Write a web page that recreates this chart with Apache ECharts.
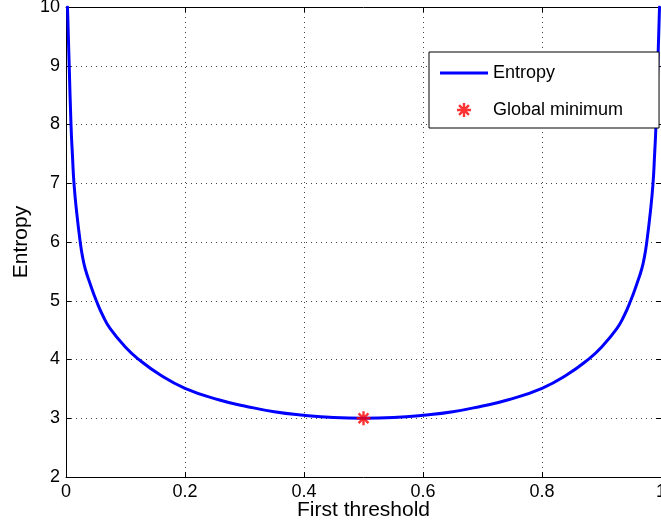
<!DOCTYPE html>
<html>
<head>
<meta charset="utf-8">
<script src="https://cdn.jsdelivr.net/npm/echarts@6/dist/echarts.min.js"></script>
<style>
  html, body { margin: 0; padding: 0; background: #fff; }
  #chart { width: 661px; height: 527px; }
</style>
</head>
<body>
<div id="chart"></div>
<script>
// Entropy as a function of the first threshold
const thresholdX = [
  0.0025, 0.0054, 0.0084, 0.0108, 0.0134, 0.018, 0.0239, 0.0276, 0.0324, 0.0412,
  0.051, 0.0622, 0.074, 0.1, 0.12, 0.158, 0.2, 0.258, 0.3, 0.35, 0.4, 0.45, 0.5,
  0.55, 0.6, 0.65, 0.7, 0.742, 0.8, 0.842, 0.88, 0.9, 0.926, 0.9378, 0.949,
  0.9588, 0.9676, 0.9724, 0.9761, 0.982, 0.9866, 0.9892, 0.9916, 0.9946, 0.9975
];
const entropyY = [
  10, 9.0, 8.0, 7.48, 7.0, 6.5, 6.0, 5.76, 5.54, 5.27,
  5.0, 4.74, 4.53, 4.21, 4.02, 3.74, 3.51, 3.31, 3.21, 3.11, 3.05, 3.012, 3.0,
  3.012, 3.05, 3.11, 3.21, 3.31, 3.51, 3.74, 4.02, 4.21, 4.53, 4.74, 5.0,
  5.27, 5.54, 5.76, 6.0, 6.5, 7.0, 7.48, 8.0, 9.0, 10
];
// Location of the global minimum
const minimumX = [0.5];
const minimumY = [3];

const xTicks = { min: 0, max: 1, interval: 0.2 };
const yTicks = { min: 2, max: 10, interval: 1 };

const FONT = 'Liberation Sans, Arial, Helvetica, sans-serif';

// eight-armed asterisk marker
const asterisk = 'path://M-1.2,-7L1.2,-7L1.2,7L-1.2,7Z' +
  'M-7,-1.2L7,-1.2L7,1.2L-7,1.2Z' +
  'M-4.1,-5.8L5.8,4.1L4.1,5.8L-5.8,-4.1Z' +
  'M-5.8,4.1L4.1,-5.8L5.8,-4.1L-4.1,5.8Z';
// plain line sample for the curve's legend entry
const lineIcon = 'path://M0,0L48,0L48,3L0,3Z';

const curve = thresholdX.map((x, i) => [x, entropyY[i]]);
const minima = minimumX.map((x, i) => [x, minimumY[i]]);

const gridLine = { show: true, lineStyle: { color: '#444', type: [1, 4], width: 1 } };
const axisLine = { show: true, onZero: false, lineStyle: { color: '#000', width: 1 } };
const ticksIn = { show: true, inside: true, length: 5, lineStyle: { color: '#000' } };

const chart = echarts.init(document.getElementById('chart'), null, { renderer: 'canvas' });
chart.setOption({
  animation: false,
  backgroundColor: '#fff',
  grid: {
    left: 66, right: 0, top: 7, bottom: 50,
    containLabel: false,
    outerBoundsMode: 'none'
  },
  legend: {
    left: 429, top: 52,
    orient: 'vertical',
    backgroundColor: '#fff',
    borderColor: '#000',
    borderWidth: 1,
    borderRadius: 0,
    padding: [12, 36, 9, 11],
    itemWidth: 48,
    itemHeight: 14,
    itemGap: 19,
    textStyle: { fontFamily: FONT, fontSize: 18, lineHeight: 18, color: '#000' },
    data: [
      { name: 'Entropy', icon: lineIcon },
      { name: 'Global minimum' }
    ]
  },
  xAxis: [{
    type: 'value', position: 'bottom',
    min: xTicks.min, max: xTicks.max, interval: xTicks.interval,
    name: 'First threshold', nameLocation: 'middle', nameGap: 23,
    nameMoveOverlap: false,
    nameTextStyle: { fontFamily: FONT, fontSize: 21, color: '#000' },
    axisLine: axisLine, axisTick: ticksIn, splitLine: gridLine,
    axisLabel: { fontFamily: FONT, fontSize: 18, color: '#000', margin: 6 }
  }, {
    type: 'value', position: 'top',
    min: xTicks.min, max: xTicks.max, interval: xTicks.interval,
    axisLine: axisLine, axisTick: ticksIn, splitLine: { show: false },
    axisLabel: { show: false }
  }],
  yAxis: [{
    type: 'value', position: 'left',
    min: yTicks.min, max: yTicks.max, interval: yTicks.interval,
    name: 'Entropy', nameLocation: 'middle', nameGap: 34,
    nameMoveOverlap: false,
    nameTextStyle: { fontFamily: FONT, fontSize: 21, color: '#000' },
    axisLine: axisLine, axisTick: ticksIn, splitLine: gridLine,
    axisLabel: { fontFamily: FONT, fontSize: 18, color: '#000', margin: 6 }
  }, {
    type: 'value', position: 'right',
    min: yTicks.min, max: yTicks.max, interval: yTicks.interval,
    axisLine: axisLine, axisTick: ticksIn, splitLine: { show: false },
    axisLabel: { show: false }
  }],
  series: [{
    name: 'Entropy',
    type: 'line',
    data: curve,
    symbol: 'none',
    smooth: 0.5,
    clip: true,
    lineStyle: { color: '#0000ff', width: 3, join: 'round', cap: 'round' },
    itemStyle: { color: '#0000ff' },
    z: 3
  }, {
    name: 'Global minimum',
    type: 'scatter',
    data: minima,
    symbol: asterisk,
    symbolSize: 14,
    itemStyle: { color: '#ff0000' },
    z: 4
  }]
});
</script>
</body>
</html>
